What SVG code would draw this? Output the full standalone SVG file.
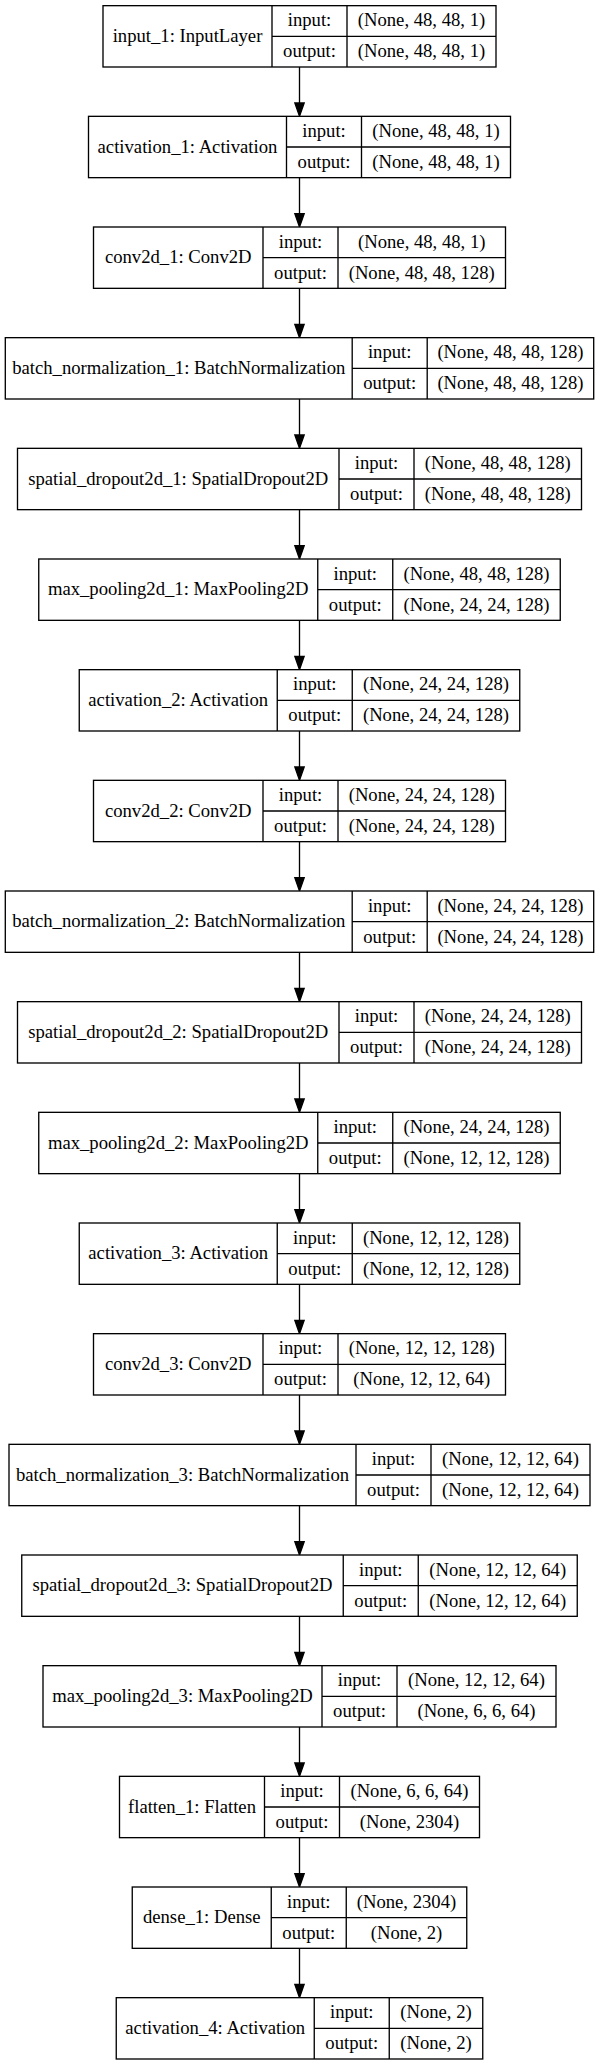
<svg xmlns="http://www.w3.org/2000/svg" width="599" height="2065" viewBox="0 0 599 2065">
<style>
.box{fill:#fff;stroke:#000;stroke-width:1.33}
.div{fill:none;stroke:#000;stroke-width:1.33}
text{font-family:"Liberation Serif","Times New Roman",serif;font-size:18.67px;fill:#000;text-anchor:middle}
.edge{stroke:#000;stroke-width:1.33;fill:none}
</style>
<defs>
<marker id="ah" markerUnits="userSpaceOnUse" markerWidth="16" markerHeight="12" refX="0" refY="4.67" orient="auto" overflow="visible">
<path d="M0,0 L13.33,4.67 L0,9.33 Z" fill="#000" stroke="#000" stroke-width="1.33"/>
</marker>
</defs>
<rect width="599" height="2065" fill="#fff"/>
<g id="connectors">
<line class="edge" x1="299.5" y1="67" x2="299.5" y2="103" marker-end="url(#ah)"/>
<line class="edge" x1="299.5" y1="177.67" x2="299.5" y2="213.67" marker-end="url(#ah)"/>
<line class="edge" x1="299.5" y1="288.33" x2="299.5" y2="324.33" marker-end="url(#ah)"/>
<line class="edge" x1="299.5" y1="399" x2="299.5" y2="435" marker-end="url(#ah)"/>
<line class="edge" x1="299.5" y1="509.67" x2="299.5" y2="545.67" marker-end="url(#ah)"/>
<line class="edge" x1="299.5" y1="620.33" x2="299.5" y2="656.33" marker-end="url(#ah)"/>
<line class="edge" x1="299.5" y1="731" x2="299.5" y2="767" marker-end="url(#ah)"/>
<line class="edge" x1="299.5" y1="841.67" x2="299.5" y2="877.67" marker-end="url(#ah)"/>
<line class="edge" x1="299.5" y1="952.33" x2="299.5" y2="988.33" marker-end="url(#ah)"/>
<line class="edge" x1="299.5" y1="1063" x2="299.5" y2="1099" marker-end="url(#ah)"/>
<line class="edge" x1="299.5" y1="1173.67" x2="299.5" y2="1209.67" marker-end="url(#ah)"/>
<line class="edge" x1="299.5" y1="1284.33" x2="299.5" y2="1320.33" marker-end="url(#ah)"/>
<line class="edge" x1="299.5" y1="1395" x2="299.5" y2="1431" marker-end="url(#ah)"/>
<line class="edge" x1="299.5" y1="1505.67" x2="299.5" y2="1541.67" marker-end="url(#ah)"/>
<line class="edge" x1="299.5" y1="1616.33" x2="299.5" y2="1652.33" marker-end="url(#ah)"/>
<line class="edge" x1="299.5" y1="1727" x2="299.5" y2="1763" marker-end="url(#ah)"/>
<line class="edge" x1="299.5" y1="1837.67" x2="299.5" y2="1873.67" marker-end="url(#ah)"/>
<line class="edge" x1="299.5" y1="1948.33" x2="299.5" y2="1984.33" marker-end="url(#ah)"/>
</g>

<g id="input_1" transform="translate(0,5.67)">
<rect class="box" x="103" y="0" width="393" height="61.33"/>
<path class="div" d="M272 0V61.33M347 0V61.33M272 30.67H496"/>
<text x="187.5" y="36.3">input_1: InputLayer</text>
<text x="309.5" y="20.8">input:</text><text x="309.5" y="51.5">output:</text>
<text x="421.5" y="20.8">(None, 48, 48, 1)</text><text x="421.5" y="51.5">(None, 48, 48, 1)</text>
</g>

<g id="activation_1" transform="translate(0,116.33)">
<rect class="box" x="88.5" y="0" width="422" height="61.33"/>
<path class="div" d="M286.5 0V61.33M361.5 0V61.33M286.5 30.67H510.5"/>
<text x="187.5" y="36.3">activation_1: Activation</text>
<text x="324" y="20.8">input:</text><text x="324" y="51.5">output:</text>
<text x="436" y="20.8">(None, 48, 48, 1)</text><text x="436" y="51.5">(None, 48, 48, 1)</text>
</g>

<g id="conv2d_1" transform="translate(0,227)">
<rect class="box" x="93.5" y="0" width="412" height="61.33"/>
<path class="div" d="M263 0V61.33M338 0V61.33M263 30.67H505.5"/>
<text x="178.25" y="36.3">conv2d_1: Conv2D</text>
<text x="300.5" y="20.8">input:</text><text x="300.5" y="51.5">output:</text>
<text x="421.75" y="20.8">(None, 48, 48, 1)</text><text x="421.75" y="51.5">(None, 48, 48, 128)</text>
</g>

<g id="batch_normalization_1" transform="translate(0,337.67)">
<rect class="box" x="5.3" y="0" width="588.4" height="61.33"/>
<path class="div" d="M352.2 0V61.33M427.2 0V61.33M352.2 30.67H593.7"/>
<text x="178.75" y="36.3">batch_normalization_1: BatchNormalization</text>
<text x="389.7" y="20.8">input:</text><text x="389.7" y="51.5">output:</text>
<text x="510.45" y="20.8">(None, 48, 48, 128)</text><text x="510.45" y="51.5">(None, 48, 48, 128)</text>
</g>

<g id="spatial_dropout2d_1" transform="translate(0,448.33)">
<rect class="box" x="17.5" y="0" width="564" height="61.33"/>
<path class="div" d="M339 0V61.33M414 0V61.33M339 30.67H581.5"/>
<text x="178.25" y="36.3">spatial_dropout2d_1: SpatialDropout2D</text>
<text x="376.5" y="20.8">input:</text><text x="376.5" y="51.5">output:</text>
<text x="497.75" y="20.8">(None, 48, 48, 128)</text><text x="497.75" y="51.5">(None, 48, 48, 128)</text>
</g>

<g id="max_pooling2d_1" transform="translate(0,559)">
<rect class="box" x="38.75" y="0" width="521.5" height="61.33"/>
<path class="div" d="M317.75 0V61.33M392.75 0V61.33M317.75 30.67H560.25"/>
<text x="178.25" y="36.3">max_pooling2d_1: MaxPooling2D</text>
<text x="355.25" y="20.8">input:</text><text x="355.25" y="51.5">output:</text>
<text x="476.5" y="20.8">(None, 48, 48, 128)</text><text x="476.5" y="51.5">(None, 24, 24, 128)</text>
</g>

<g id="activation_2" transform="translate(0,669.67)">
<rect class="box" x="79.25" y="0" width="440.5" height="61.33"/>
<path class="div" d="M277.25 0V61.33M352.25 0V61.33M277.25 30.67H519.75"/>
<text x="178.25" y="36.3">activation_2: Activation</text>
<text x="314.75" y="20.8">input:</text><text x="314.75" y="51.5">output:</text>
<text x="436" y="20.8">(None, 24, 24, 128)</text><text x="436" y="51.5">(None, 24, 24, 128)</text>
</g>

<g id="conv2d_2" transform="translate(0,780.33)">
<rect class="box" x="93.5" y="0" width="412" height="61.33"/>
<path class="div" d="M263 0V61.33M338 0V61.33M263 30.67H505.5"/>
<text x="178.25" y="36.3">conv2d_2: Conv2D</text>
<text x="300.5" y="20.8">input:</text><text x="300.5" y="51.5">output:</text>
<text x="421.75" y="20.8">(None, 24, 24, 128)</text><text x="421.75" y="51.5">(None, 24, 24, 128)</text>
</g>

<g id="batch_normalization_2" transform="translate(0,891)">
<rect class="box" x="5.3" y="0" width="588.4" height="61.33"/>
<path class="div" d="M352.2 0V61.33M427.2 0V61.33M352.2 30.67H593.7"/>
<text x="178.75" y="36.3">batch_normalization_2: BatchNormalization</text>
<text x="389.7" y="20.8">input:</text><text x="389.7" y="51.5">output:</text>
<text x="510.45" y="20.8">(None, 24, 24, 128)</text><text x="510.45" y="51.5">(None, 24, 24, 128)</text>
</g>

<g id="spatial_dropout2d_2" transform="translate(0,1001.67)">
<rect class="box" x="17.5" y="0" width="564" height="61.33"/>
<path class="div" d="M339 0V61.33M414 0V61.33M339 30.67H581.5"/>
<text x="178.25" y="36.3">spatial_dropout2d_2: SpatialDropout2D</text>
<text x="376.5" y="20.8">input:</text><text x="376.5" y="51.5">output:</text>
<text x="497.75" y="20.8">(None, 24, 24, 128)</text><text x="497.75" y="51.5">(None, 24, 24, 128)</text>
</g>

<g id="max_pooling2d_2" transform="translate(0,1112.33)">
<rect class="box" x="38.75" y="0" width="521.5" height="61.33"/>
<path class="div" d="M317.75 0V61.33M392.75 0V61.33M317.75 30.67H560.25"/>
<text x="178.25" y="36.3">max_pooling2d_2: MaxPooling2D</text>
<text x="355.25" y="20.8">input:</text><text x="355.25" y="51.5">output:</text>
<text x="476.5" y="20.8">(None, 24, 24, 128)</text><text x="476.5" y="51.5">(None, 12, 12, 128)</text>
</g>

<g id="activation_3" transform="translate(0,1223)">
<rect class="box" x="79.25" y="0" width="440.5" height="61.33"/>
<path class="div" d="M277.25 0V61.33M352.25 0V61.33M277.25 30.67H519.75"/>
<text x="178.25" y="36.3">activation_3: Activation</text>
<text x="314.75" y="20.8">input:</text><text x="314.75" y="51.5">output:</text>
<text x="436" y="20.8">(None, 12, 12, 128)</text><text x="436" y="51.5">(None, 12, 12, 128)</text>
</g>

<g id="conv2d_3" transform="translate(0,1333.67)">
<rect class="box" x="93.5" y="0" width="412" height="61.33"/>
<path class="div" d="M263 0V61.33M338 0V61.33M263 30.67H505.5"/>
<text x="178.25" y="36.3">conv2d_3: Conv2D</text>
<text x="300.5" y="20.8">input:</text><text x="300.5" y="51.5">output:</text>
<text x="421.75" y="20.8">(None, 12, 12, 128)</text><text x="421.75" y="51.5">(None, 12, 12, 64)</text>
</g>

<g id="batch_normalization_3" transform="translate(0,1444.33)">
<rect class="box" x="9" y="0" width="581" height="61.33"/>
<path class="div" d="M356 0V61.33M431 0V61.33M356 30.67H590"/>
<text x="182.5" y="36.3">batch_normalization_3: BatchNormalization</text>
<text x="393.5" y="20.8">input:</text><text x="393.5" y="51.5">output:</text>
<text x="510.5" y="20.8">(None, 12, 12, 64)</text><text x="510.5" y="51.5">(None, 12, 12, 64)</text>
</g>

<g id="spatial_dropout2d_3" transform="translate(0,1555)">
<rect class="box" x="21.75" y="0" width="555.5" height="61.33"/>
<path class="div" d="M343.25 0V61.33M418.25 0V61.33M343.25 30.67H577.25"/>
<text x="182.5" y="36.3">spatial_dropout2d_3: SpatialDropout2D</text>
<text x="380.75" y="20.8">input:</text><text x="380.75" y="51.5">output:</text>
<text x="497.75" y="20.8">(None, 12, 12, 64)</text><text x="497.75" y="51.5">(None, 12, 12, 64)</text>
</g>

<g id="max_pooling2d_3" transform="translate(0,1665.67)">
<rect class="box" x="43" y="0" width="513" height="61.33"/>
<path class="div" d="M322 0V61.33M397 0V61.33M322 30.67H556"/>
<text x="182.5" y="36.3">max_pooling2d_3: MaxPooling2D</text>
<text x="359.5" y="20.8">input:</text><text x="359.5" y="51.5">output:</text>
<text x="476.5" y="20.8">(None, 12, 12, 64)</text><text x="476.5" y="51.5">(None, 6, 6, 64)</text>
</g>

<g id="flatten_1" transform="translate(0,1776.33)">
<rect class="box" x="119.5" y="0" width="360" height="61.33"/>
<path class="div" d="M264.5 0V61.33M339.5 0V61.33M264.5 30.67H479.5"/>
<text x="192" y="36.3">flatten_1: Flatten</text>
<text x="302" y="20.8">input:</text><text x="302" y="51.5">output:</text>
<text x="409.5" y="20.8">(None, 6, 6, 64)</text><text x="409.5" y="51.5">(None, 2304)</text>
</g>

<g id="dense_1" transform="translate(0,1887)">
<rect class="box" x="132.25" y="0" width="334.5" height="61.33"/>
<path class="div" d="M271.25 0V61.33M346.25 0V61.33M271.25 30.67H466.75"/>
<text x="201.75" y="36.3">dense_1: Dense</text>
<text x="308.75" y="20.8">input:</text><text x="308.75" y="51.5">output:</text>
<text x="406.5" y="20.8">(None, 2304)</text><text x="406.5" y="51.5">(None, 2)</text>
</g>

<g id="activation_4" transform="translate(0,1997.67)">
<rect class="box" x="116.25" y="0" width="366.5" height="61.33"/>
<path class="div" d="M314.25 0V61.33M389.25 0V61.33M314.25 30.67H482.75"/>
<text x="215.25" y="36.3">activation_4: Activation</text>
<text x="351.75" y="20.8">input:</text><text x="351.75" y="51.5">output:</text>
<text x="436" y="20.8">(None, 2)</text><text x="436" y="51.5">(None, 2)</text>
</g>
</svg>
